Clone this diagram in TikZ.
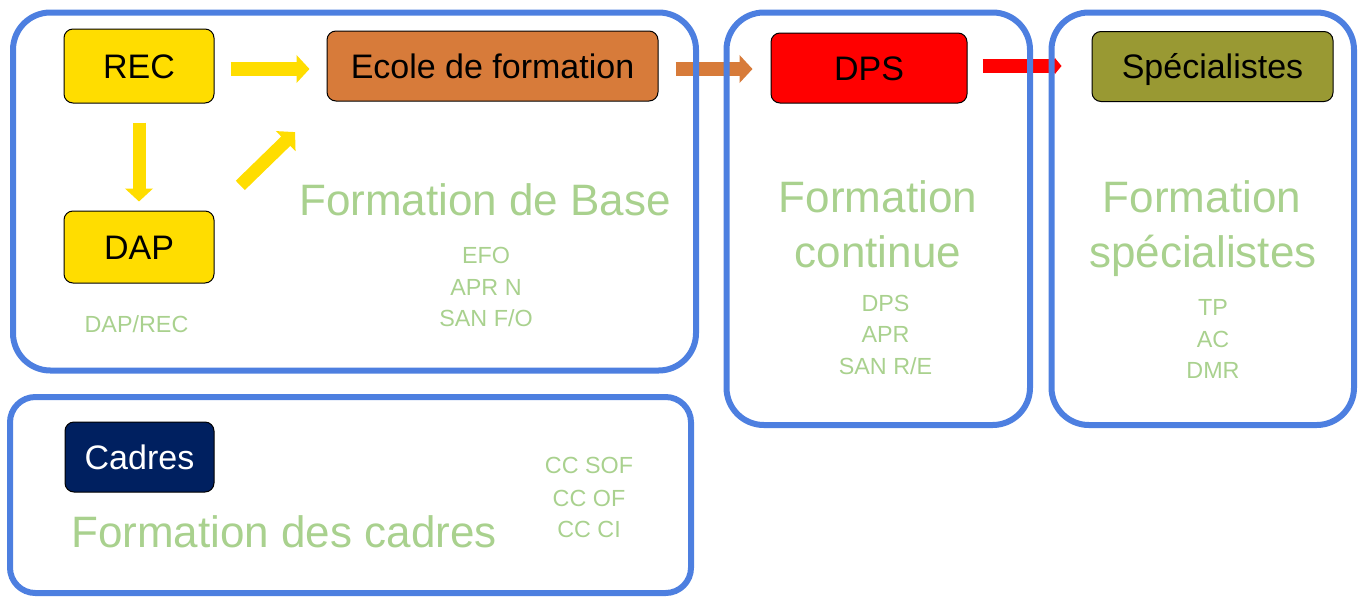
\documentclass[tikz,border=0pt]{standalone}
\usepackage{fontspec}
\setmainfont{Liberation Sans}
\usetikzlibrary{arrows.meta}
\definecolor{frameblue}{RGB}{77,127,224}
\definecolor{byellow}{RGB}{255,221,0}
\definecolor{borange}{RGB}{215,123,58}
\definecolor{bred}{RGB}{255,0,0}
\definecolor{bolive}{RGB}{153,153,51}
\definecolor{bnavy}{RGB}{0,32,96}
\definecolor{lgreen}{RGB}{169,209,142}
\begin{document}
\begin{tikzpicture}[x=0.75pt,y=-0.75pt,
  frame/.style={draw=frameblue, line width=4.5pt, rounded corners=28pt},
  box/.style={draw=black, line width=0.75pt, rounded corners=6.75pt, inner sep=0pt,
    text height=18.3pt, text depth=0pt, font=\fontsize{25.5}{30}\selectfont, minimum height=52.5pt},
  big/.style={text=lgreen, font=\fontsize{33}{40}\selectfont, anchor=base, inner sep=0pt},
  small/.style={text=lgreen, font=\fontsize{17.5}{21}\selectfont, anchor=base, inner sep=0pt},
  fat/.style={line width=10.5pt, -{Triangle[length=9.75pt,width=20.5pt]}},
  thin arrow/.style={line width=10.5pt, -{Triangle[length=5.25pt,width=12.5pt]}},
]
\useasboundingbox (0,0) rectangle (1362,596);

% boxes
\node[box, fill=byellow, minimum width=112.5pt, minimum height=55.5pt] (rec) at (139,66) {REC};
\node[box, fill=byellow, minimum width=112.5pt, minimum height=54pt] (dap) at (139,247) {DAP};
\node[box, fill=borange, minimum width=248.25pt] (ecole) at (492.5,66) {Ecole de formation};
\node[box, fill=bred, minimum width=147pt] (dps) at (869,68) {DPS};
\node[box, fill=bolive, minimum width=180.75pt] (spec) at (1212.5,66.5) {Spécialistes};
\node[box, fill=bnavy, text=white, minimum width=111.75pt] (cadres) at (139.5,457) {Cadres};

% arrows
\draw[fat, draw=byellow, shorten <=12pt, shorten >=12.75pt]
  ([yshift=-2.25pt]rec.east) -- ([yshift=-2.25pt]rec.east -| ecole.west);
\draw[fat, draw=byellow, line width=9.75pt, shorten <=14.25pt, shorten >=6.75pt]
  (rec.south) -- (dap.north);
\draw[fat, draw=byellow, line width=9.75pt, shorten <=27pt, shorten >=32.9pt]
  (dap.north east) -- (ecole.south west);
\draw[fat, draw=borange, shorten <=12.75pt, shorten >=13.5pt]
  ([yshift=-2.25pt]ecole.east) -- ([yshift=-2.25pt]ecole.east -| dps.west);
\draw[thin arrow, draw=bred, shorten <=11.25pt, shorten >=22.5pt]
  ([yshift=1.5pt]dps.east) -- ([yshift=1.5pt]dps.east -| spec.west);

% frames
\draw[frame] (13,12.5) rectangle (696,370.5);
\draw[frame] (726.5,12.5) rectangle (1030,425);
\draw[frame] (1051.5,12.5) rectangle (1354,425);
\draw[frame, rounded corners=19pt] (10,397) rectangle (691,593);

% texts
\node[big] (t1) at (485,215) {Formation de Base};
\node[small] (t1a) at (486,263) {EFO};
\node[small] (t1b) at (486,295) {APR N};
\node[small] (t1c) at (486,326) {SAN F/O};
\node[small] (t1d) at (136.5,332) {DAP/REC};

\node[big] (t2) at (878,212) {Formation};
\node[big] (t2b) at (878,267) {continue};
\node[small] (t2c) at (885.5,311) {DPS};
\node[small] (t2d) at (885.5,342) {APR};
\node[small] (t2e) at (885.5,374) {SAN R/E};

\node[big] (t3) at (1202,212) {Formation};
\node[big] (t3b) at (1203,267) {spécialistes};
\node[small] (t3c) at (1213,315) {TP};
\node[small] (t3d) at (1213,347) {AC};
\node[small] (t3e) at (1213,378) {DMR};

\node[big] (t4) at (284,547) {Formation des cadres};
\node[small] (t4a) at (589,473) {CC SOF};
\node[small] (t4b) at (589,506) {CC OF};
\node[small] (t4c) at (589,537) {CC CI};
\end{tikzpicture}
\end{document}
